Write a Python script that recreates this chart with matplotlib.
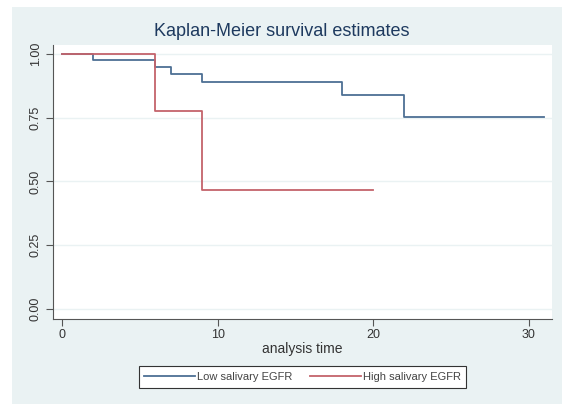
import matplotlib.pyplot as plt
from matplotlib.patches import Rectangle

# Kaplan-Meier step data, survival read at each event time
low_times = [0, 2, 6, 7, 9, 18, 22, 31]
low_surv = [1.0, 0.976, 0.949, 0.922, 0.889, 0.838, 0.754, 0.754]
high_times = [0, 6, 9, 20]
high_surv = [1.0, 0.778, 0.467, 0.467]

x_ticks = [0, 10, 20, 30]
y_ticks = [0.0, 0.25, 0.5, 0.75, 1.0]
y_labels = ["0.00", "0.25", "0.50", "0.75", "1.00"]
series_names = ["Low salivary EGFR", "High salivary EGFR"]

plt.rcParams['font.family'] = ['Liberation Sans', 'DejaVu Sans']

bg = "#eaf2f3"
fig = plt.figure(figsize=(5.62, 4.04), dpi=100)
fig.patch.set_facecolor(bg)
# thin white strips along the top and left edge
fig.patches.append(Rectangle((0, 1 - 7 / 404), 1, 7 / 404, transform=fig.transFigure,
                             facecolor="white", edgecolor="none", zorder=-10))
fig.patches.append(Rectangle((0, 0), 12 / 562, 1, transform=fig.transFigure,
                             facecolor="white", edgecolor="none", zorder=-10))

ax = fig.add_axes([53 / 562, 1 - 319 / 404, 499 / 562, 274 / 404])
ax.set_facecolor("white")

ax.step(low_times, low_surv, where="post", color="#4d6f94", lw=1.3,
        label=series_names[0], zorder=3)
ax.step(high_times, high_surv, where="post", color="#c4636b", lw=1.3,
        label=series_names[1], zorder=3)

ax.set_xlim(-0.58, 31.5)
ax.set_ylim(-0.039, 1.035)
ax.set_xticks(x_ticks)
ax.set_yticks(y_ticks)
ax.set_yticklabels(y_labels, rotation=90, va="center")
ax.tick_params(axis="both", direction="out", length=5, width=0.8,
               color="#555555", labelsize=9, labelcolor="#333333")
ax.tick_params(axis="y", pad=3)
ax.tick_params(axis="x", pad=2)

ax.yaxis.grid(True, color=bg, lw=1.0, zorder=0)
ax.set_axisbelow(True)

for side in ["top", "right"]:
    ax.spines[side].set_visible(False)
for side in ["left", "bottom"]:
    ax.spines[side].set_color("#555555")
    ax.spines[side].set_linewidth(0.8)

ax.set_xlabel("analysis time", fontsize=10, color="#333333", labelpad=1)

fig.text(281.5 / 562, 1 - 32 / 404, "Kaplan-Meier survival estimates",
         ha="center", va="center", fontsize=13, color="#1e3a5f")

leg = fig.legend(loc="center", bbox_to_anchor=(302.5 / 562, 1 - 377 / 404),
                 ncol=2, fontsize=8, frameon=True, fancybox=False,
                 edgecolor="#333333", facecolor="white", framealpha=1,
                 handlelength=4.6, handletextpad=0.2, columnspacing=1.5,
                 borderpad=0.5, borderaxespad=0)
leg.get_frame().set_linewidth(0.8)
for t in leg.get_texts():
    t.set_color("#444444")

fig.savefig("out.png", dpi=100, facecolor=fig.get_facecolor())
